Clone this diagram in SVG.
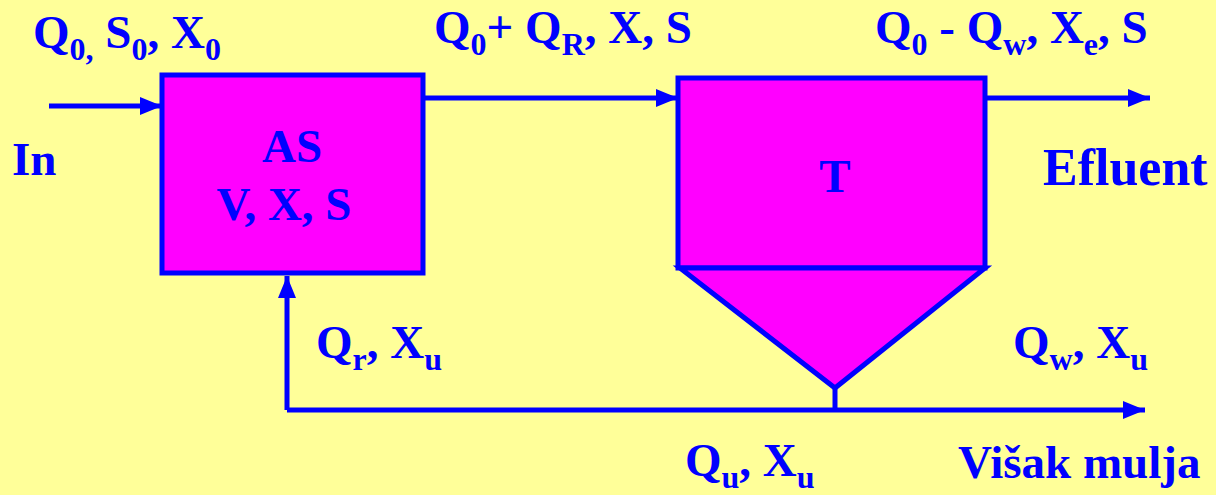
<svg xmlns="http://www.w3.org/2000/svg" width="1216" height="495" viewBox="0 0 1216 495">
<defs>
<style>
.t{font-family:"Liberation Serif","Times New Roman",serif;font-weight:bold;fill:#0000FF;font-size:47px}
.s{font-size:32px}
.big{font-size:52px}
.ln{stroke:#0000FF;stroke-width:5;fill:none}
.box{fill:#FF00FF;stroke:#0000FF;stroke-width:5}
</style>
<marker id="ah2" markerWidth="22" markerHeight="18" refX="22" refY="9" orient="auto" markerUnits="userSpaceOnUse" viewBox="0 0 22 18">
<path d="M0,0 L22,9 L0,18 z" fill="#0000FF"/>
</marker>
</defs>
<rect width="1216" height="495" fill="#FFFF99"/>
<g id="connectors">
<line class="ln" x1="49" y1="106" x2="162" y2="106" marker-end="url(#ah2)"/>
<line class="ln" x1="423" y1="98" x2="678" y2="98" marker-end="url(#ah2)"/>
<line class="ln" x1="985" y1="98" x2="1150" y2="98" marker-end="url(#ah2)"/>
<line class="ln" x1="835" y1="386" x2="835" y2="410"/>
<line class="ln" x1="287" y1="410" x2="1145" y2="410" marker-end="url(#ah2)"/>
<line class="ln" x1="287" y1="410" x2="287" y2="276" marker-end="url(#ah2)"/>
</g>
<g id="node-as">
<rect class="box" x="162" y="75" width="261" height="198"/>
<text class="t" x="292" y="162" text-anchor="middle">AS</text>
<text class="t" x="284" y="220" text-anchor="middle">V, X, S</text>
</g>
<g id="node-t">
<rect class="box" x="678" y="78" width="307" height="190"/>
<polygon class="box" points="680,268 985,268 835,388"/>
<text class="t" x="835" y="192" text-anchor="middle">T</text>
</g>
<g id="labels">
<text class="t" x="33" y="48">Q<tspan class="s" dy="12">0,</tspan><tspan dy="-12"> S</tspan><tspan class="s" dy="12">0</tspan><tspan dy="-12">, X</tspan><tspan class="s" dy="12">0</tspan></text>
<text class="t" x="434" y="43">Q<tspan class="s" dy="12">0</tspan><tspan dy="-12">+ Q</tspan><tspan class="s" dy="12">R</tspan><tspan dy="-12">, X, S</tspan></text>
<text class="t" x="875" y="43">Q<tspan class="s" dy="12">0</tspan><tspan dy="-12"> - Q</tspan><tspan class="s" dy="12">w</tspan><tspan dy="-12">, X</tspan><tspan class="s" dy="12">e</tspan><tspan dy="-12">, S</tspan></text>
<text class="t big" x="1043" y="185">Efluent</text>
<text class="t" x="12" y="175">In</text>
<text class="t" x="316" y="358">Q<tspan class="s" dy="12">r</tspan><tspan dy="-12">, X</tspan><tspan class="s" dy="12">u</tspan></text>
<text class="t" x="1013" y="358">Q<tspan class="s" dy="12">w</tspan><tspan dy="-12">, X</tspan><tspan class="s" dy="12">u</tspan></text>
<text class="t" x="685" y="476">Q<tspan class="s" dy="12">u</tspan><tspan dy="-12">, X</tspan><tspan class="s" dy="12">u</tspan></text>
<text class="t" x="958" y="478">Višak mulja</text>
</g>
</svg>
